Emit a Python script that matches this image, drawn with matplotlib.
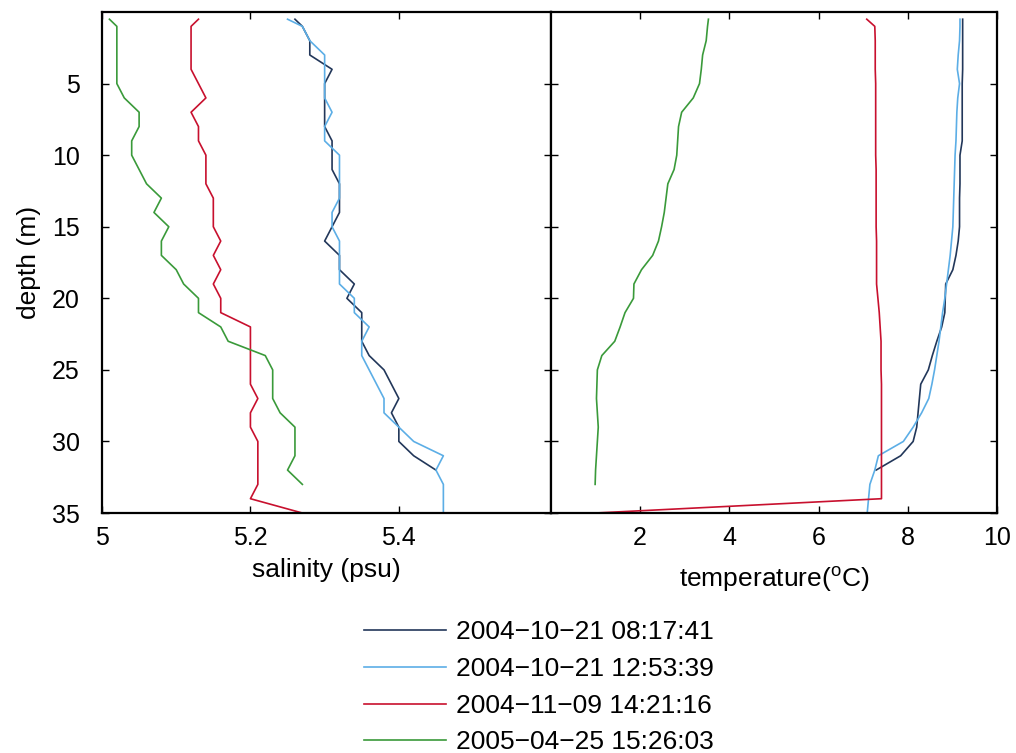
import numpy as np
import matplotlib
matplotlib.use("Agg")
import matplotlib.pyplot as plt

plt.rcParams['font.family'] = ['Liberation Sans', 'DejaVu Sans']
plt.rcParams['mathtext.fontset'] = 'custom'
plt.rcParams['mathtext.rm'] = 'Liberation Sans'

labels = ['2004\u221210\u221221 08:17:41', '2004\u221210\u221221 12:53:39',
          '2004\u221211\u221209 14:21:16', '2005\u221204\u221225 15:26:03']
colors = ['#22375a', '#5caee6', '#c8102e', '#3a9a3a']

# salinity (psu), first sample at 0.5 m then every metre
sal_1 = [5.26, 5.27, 5.28, 5.28, 5.31, 5.30, 5.30, 5.30, 5.30, 5.31, 5.31, 5.31,
         5.32, 5.32, 5.32, 5.31, 5.30, 5.32, 5.32, 5.34, 5.33, 5.35, 5.35, 5.35,
         5.36, 5.38, 5.39, 5.40, 5.39, 5.40, 5.40, 5.42, 5.45]
sal_2 = [5.25, 5.27, 5.28, 5.30, 5.30, 5.30, 5.30, 5.31, 5.30, 5.30, 5.32, 5.32,
         5.32, 5.32, 5.31, 5.31, 5.32, 5.32, 5.32, 5.32, 5.34, 5.34, 5.36, 5.35,
         5.35, 5.36, 5.37, 5.38, 5.38, 5.40, 5.42, 5.46, 5.45, 5.46, 5.46, 5.46]
sal_3 = [5.13, 5.12, 5.12, 5.12, 5.12, 5.13, 5.14, 5.12, 5.13, 5.13, 5.14, 5.14,
         5.14, 5.15, 5.15, 5.15, 5.16, 5.15, 5.16, 5.15, 5.16, 5.16, 5.20, 5.20,
         5.20, 5.20, 5.20, 5.21, 5.20, 5.20, 5.21, 5.21, 5.21, 5.21, 5.20, 5.27]
sal_4 = [5.01, 5.02, 5.02, 5.02, 5.02, 5.02, 5.03, 5.05, 5.05, 5.04, 5.04, 5.05,
         5.06, 5.08, 5.07, 5.09, 5.08, 5.08, 5.10, 5.11, 5.13, 5.13, 5.16, 5.17,
         5.22, 5.23, 5.23, 5.23, 5.24, 5.26, 5.26, 5.26, 5.25, 5.27]

# temperature (deg C)
tem_1 = [9.23, 9.23, 9.23, 9.23, 9.23, 9.22, 9.22, 9.22, 9.22, 9.22, 9.17, 9.17,
         9.17, 9.16, 9.16, 9.16, 9.13, 9.08, 9.01, 8.85, 8.84, 8.83, 8.76, 8.65,
         8.55, 8.46, 8.29, 8.26, 8.23, 8.20, 8.12, 7.84, 7.29]
tem_2 = [9.17, 9.17, 9.16, 9.13, 9.11, 9.16, 9.12, 9.10, 9.09, 9.08, 9.06, 9.05,
         9.04, 9.03, 9.02, 9.01, 8.98, 8.95, 8.91, 8.87, 8.83, 8.78, 8.74, 8.70,
         8.65, 8.60, 8.54, 8.47, 8.31, 8.12, 7.90, 7.34, 7.26, 7.15, 7.12, 7.09]
tem_3 = [7.08, 7.26, 7.27, 7.27, 7.27, 7.28, 7.28, 7.28, 7.28, 7.28, 7.28, 7.29,
         7.29, 7.29, 7.29, 7.29, 7.30, 7.30, 7.30, 7.30, 7.33, 7.36, 7.38, 7.40,
         7.40, 7.40, 7.41, 7.41, 7.41, 7.41, 7.41, 7.41, 7.41, 7.41, 7.41, 0.99]
tem_4 = [3.53, 3.51, 3.48, 3.40, 3.37, 3.33, 3.19, 2.93, 2.86, 2.84, 2.82, 2.76,
         2.62, 2.58, 2.54, 2.48, 2.41, 2.28, 2.03, 1.86, 1.85, 1.66, 1.55, 1.43,
         1.14, 1.04, 1.03, 1.02, 1.04, 1.06, 1.04, 1.02, 1.00, 0.99]

sal = [sal_1, sal_2, sal_3, sal_4]
tem = [tem_1, tem_2, tem_3, tem_4]


def depths(n):
    return np.r_[0.5, np.arange(1, n)]


fig = plt.figure(figsize=(10.16, 7.53), dpi=100)
ax1 = fig.add_axes([0.1004, 0.3187, 0.4419, 0.6653])
ax2 = fig.add_axes([0.5423, 0.3187, 0.4390, 0.6653])

lines = []
for s, t, c, lab in zip(sal, tem, colors, labels):
    l, = ax1.plot(s, depths(len(s)), color=c, lw=1.2, label=lab)
    ax2.plot(t, depths(len(t)), color=c, lw=1.2)
    lines.append(l)

for ax in (ax1, ax2):
    ax.set_ylim(35, 0)
    ax.set_yticks([5, 10, 15, 20, 25, 30, 35])
    ax.tick_params(direction='in', top=True, right=True, labelsize=18,
                   length=5, width=1)
    ax.tick_params(axis='x', pad=9)
    ax.tick_params(axis='y', pad=16)
    for sp in ax.spines.values():
        sp.set_linewidth(1.6)

ax1.set_xlim(5, 5.605)
ax1.set_xticks([5, 5.2, 5.4])
ax1.set_xticklabels(['5', '5.2', '5.4'])
ax1.set_xlabel('salinity (psu)', fontsize=19, labelpad=6)
ax1.set_ylabel('depth (m)', fontsize=19, labelpad=8)

ax2.set_xlim(0, 10)
ax2.set_xticks([2, 4, 6, 8, 10])
ax2.set_yticklabels([])
ax2.set_xlabel(r'temperature($^{\mathrm{o}}$C)', fontsize=19, labelpad=11)

fig.legend(handles=lines, loc='upper left', bbox_to_anchor=(0.348, 0.19),
           frameon=False, fontsize=19, handlelength=3.1, handletextpad=0.4,
           labelspacing=0.48, borderaxespad=0)

fig.savefig('out.png', dpi=100)
